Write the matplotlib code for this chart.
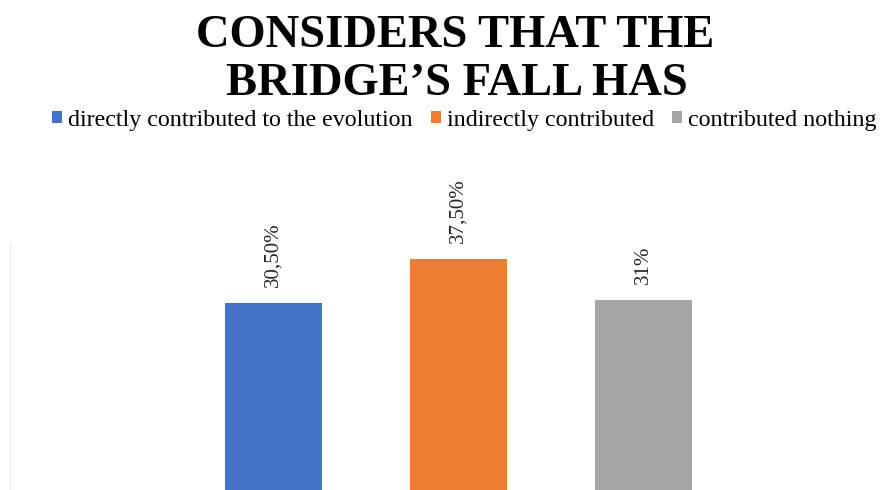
import matplotlib.pyplot as plt

categories = ["directly contributed to the evolution", "indirectly contributed", "contributed nothing"]
values = [30.5, 37.5, 31.0]
value_labels = ["30,50%", "37,50%", "31%"]
colors = ["#4472C4", "#ED7D31", "#A5A5A5"]
title_lines = ["CONSIDERS THAT THE", "BRIDGE\u2019S FALL HAS"]

plt.rcParams['font.family'] = ['Liberation Serif', 'DejaVu Serif']

fig = plt.figure(figsize=(8.91, 4.90), dpi=100)
# plot area runs past the bottom edge of the figure
ax = fig.add_axes([10 / 891, -5 / 490, 881 / 891, 252 / 490])

x = range(len(values))
bars = ax.bar(x, values, width=0.524, color=colors, label=categories)
for b, lab in zip(bars, value_labels):
    ax.annotate(lab, (b.get_x() + b.get_width() / 2, b.get_height()),
                xytext=(0, 16), textcoords="offset pixels",
                rotation=90, ha="center", va="bottom", fontsize=15, color="#262626")

ax.set_xlim(-1.424, 3.338)
ax.set_ylim(0, 40)
ax.set_xticks([])
ax.set_yticks([])
for s in ["top", "right", "bottom"]:
    ax.spines[s].set_visible(False)
ax.spines["left"].set_color("#ececec")
ax.spines["left"].set_linewidth(1.0)

# two-line bold title, each line on its own baseline
fig.text(0.511, 1 - 47 / 490, title_lines[0], ha="center", va="baseline",
         fontsize=33.5, fontweight="bold", color="black")
fig.text(0.513, 1 - 95 / 490, title_lines[1], ha="center", va="baseline",
         fontsize=33.5, fontweight="bold", color="black")

fig.legend(handles=bars, labels=categories, loc="center", bbox_to_anchor=(0.521, 0.755),
           ncol=3, frameon=False, fontsize=17.3, handlelength=0.42, handleheight=0.42,
           handletextpad=0.25, columnspacing=0.75)

fig.savefig("out.png", dpi=100)
